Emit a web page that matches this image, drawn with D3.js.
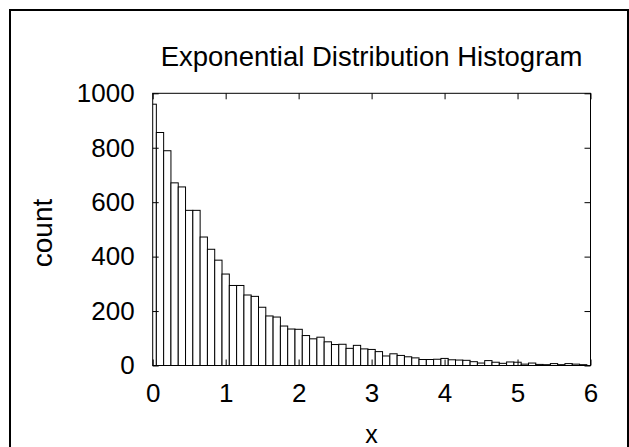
<!DOCTYPE html>
<html><head><meta charset="utf-8">
<script src="https://cdn.jsdelivr.net/npm/d3@7"></script>
<style>
html,body{margin:0;padding:0;background:#fff;}
svg{display:block;}
text{font-family:"Liberation Sans",Arial,sans-serif;fill:#000;}
</style></head>
<body>
<svg id="chart" width="629" height="447"></svg>
<script>
const title = "Exponential Distribution Histogram";
const xLabel = "x";
const yLabel = "count";
const binCenters = [0.0,0.1,0.2,0.3,0.4,0.5,0.6,0.7,0.8,0.9,
  1.0,1.1,1.2,1.3,1.4,1.5,1.6,1.7,1.8,1.9,
  2.0,2.1,2.2,2.3,2.4,2.5,2.6,2.7,2.8,2.9,
  3.0,3.1,3.2,3.3,3.4,3.5,3.6,3.7,3.8,3.9,
  4.0,4.1,4.2,4.3,4.4,4.5,4.6,4.7,4.8,4.9,
  5.0,5.1,5.2,5.3,5.4,5.5,5.6,5.7,5.8,5.9];
const counts = [960,856,789,671,656,570,570,472,427,387,
  336,294,294,259,254,214,182,178,145,134,
  133,110,98,104,87,77,78,63,74,61,
  59,51,35,43,37,32,28,22,22,23,
  26,21,20,19,14,9,18,12,8,13,
  12,5,9,4,3,7,3,7,5,3];
const binWidth = 0.1;
const xTicks = [0,1,2,3,4,5,6];
const yTicks = [0,200,400,600,800,1000];

const svg = d3.select("#chart");
const L = 152.7, R = 590.5, T = 93.3, B = 365.5;
const x = d3.scaleLinear().domain([0,6]).range([L,R]);
const y = d3.scaleLinear().domain([0,1000]).range([B,T]);

svg.append("rect").attr("x",10).attr("y",10).attr("width",618).attr("height",460)
  .attr("fill","none").attr("stroke","#000").attr("stroke-width",2);

svg.append("clipPath").attr("id","clip").append("rect")
  .attr("x",L).attr("y",T).attr("width",R-L).attr("height",B-T);

const data = binCenters.map((c,i)=>({c, v:counts[i]}));
svg.append("g").attr("clip-path","url(#clip)")
  .selectAll("rect").data(data).join("rect")
  .attr("x",d=>x(d.c-binWidth/2))
  .attr("width",d=>x(d.c+binWidth/2)-x(d.c-binWidth/2))
  .attr("y",d=>y(d.v))
  .attr("height",d=>y(0)-y(d.v))
  .attr("fill","#fff").attr("stroke","#000").attr("stroke-width",1);

svg.append("rect").attr("x",L).attr("y",T).attr("width",R-L).attr("height",B-T)
  .attr("fill","none").attr("stroke","#000").attr("stroke-width",1);

const tk = 6;
const xb = svg.append("g").attr("transform",`translate(0,${B})`)
  .call(d3.axisBottom(x).tickValues(xTicks).tickFormat(d3.format("d")).tickSize(-tk));
const xt = svg.append("g").attr("transform",`translate(0,${T})`)
  .call(d3.axisTop(x).tickValues(xTicks).tickFormat("").tickSize(-tk));
const yl = svg.append("g").attr("transform",`translate(${L},0)`)
  .call(d3.axisLeft(y).tickValues(yTicks).tickFormat(d3.format("d")).tickSize(-tk).tickPadding(18));
const yr = svg.append("g").attr("transform",`translate(${R},0)`)
  .call(d3.axisRight(y).tickValues(yTicks).tickFormat("").tickSize(-tk));
[xb,xt,yl,yr].forEach(g=>{
  g.select(".domain").remove();
  g.selectAll("line").attr("stroke","#000");
  g.selectAll("text").attr("font-size",26).attr("font-family","Liberation Sans, Arial, sans-serif").attr("fill","#000");
});
xb.selectAll("text").attr("y",36.5).attr("dy",null);

svg.append("text").attr("x",(L+R)/2).attr("y",66).attr("text-anchor","middle")
  .attr("font-size",27.5).text(title);
svg.append("text").attr("x",(L+R)/2).attr("y",443).attr("text-anchor","middle")
  .attr("font-size",25).text(xLabel);
svg.append("text").attr("transform",`translate(52,233) rotate(-90)`).attr("text-anchor","middle")
  .attr("font-size",28).text(yLabel);
</script>
</body></html>
